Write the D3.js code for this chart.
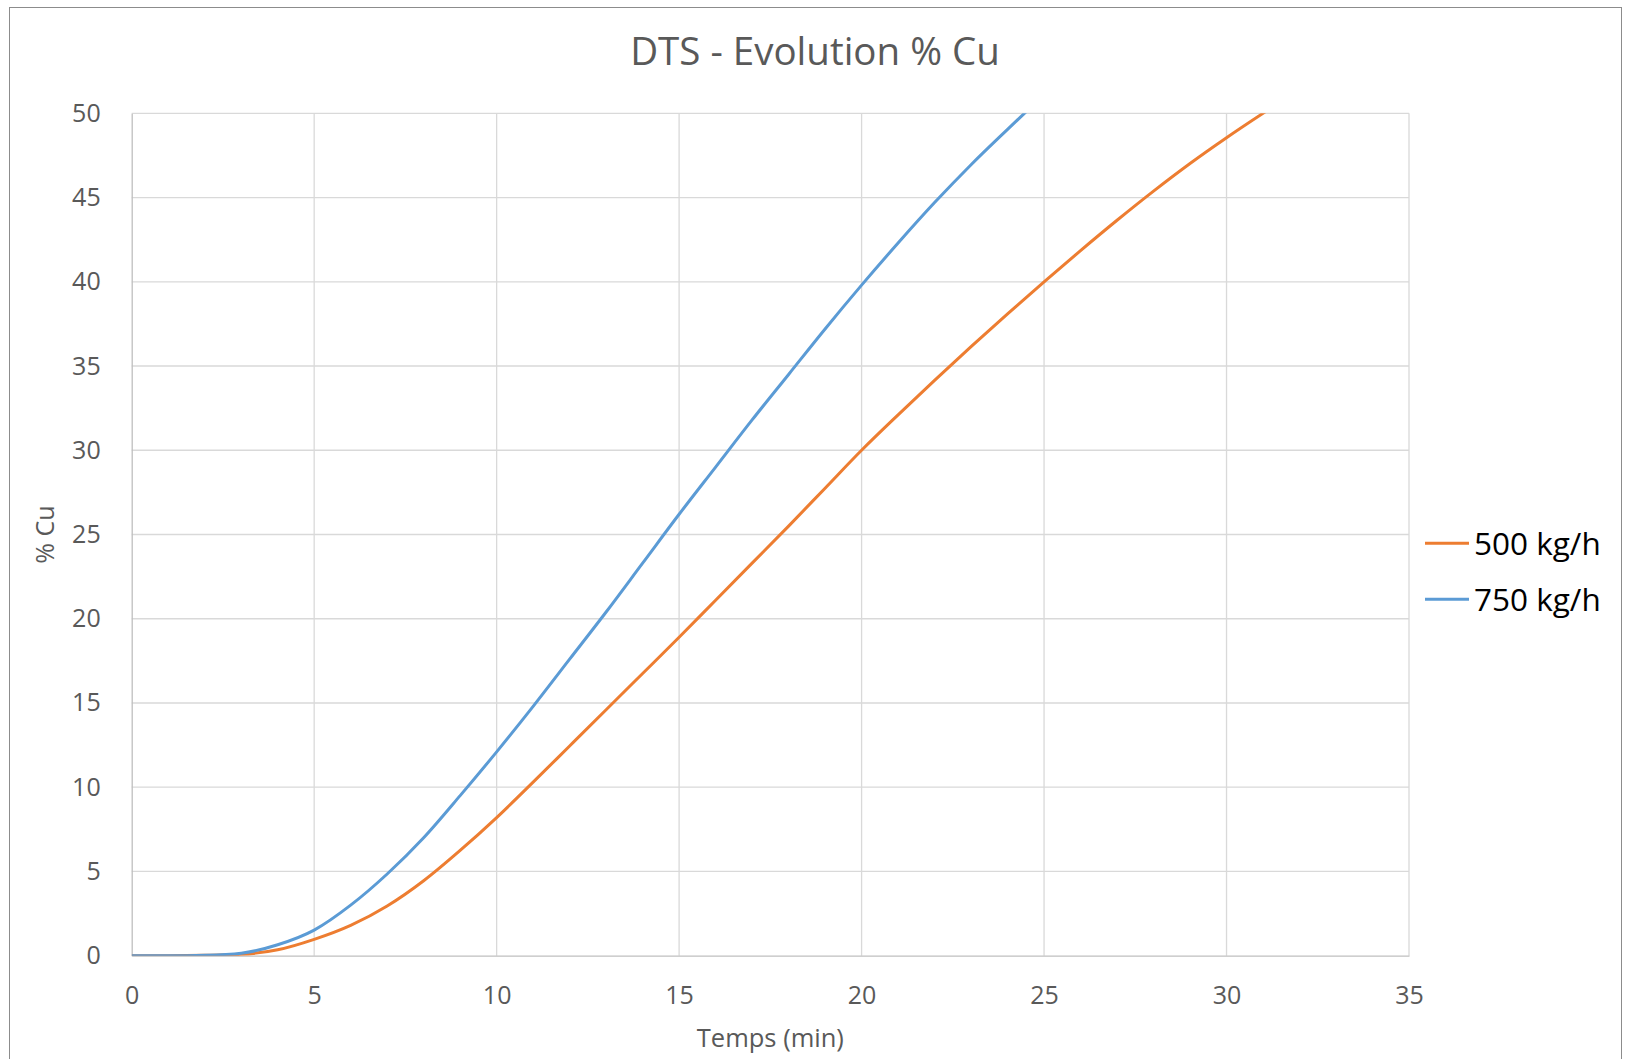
<!DOCTYPE html>
<html>
<head>
<meta charset="utf-8">
<script src="https://cdn.jsdelivr.net/npm/d3@7"></script>
<style>
  body { margin: 0; background: #fff; }
  svg text { font-family: "Open Sans", "Noto Sans", sans-serif; }
</style>
</head>
<body>
<div id="chart"></div>
<script>
// temps (min) and % Cu
var times   = [0, 1, 2, 3, 4, 5, 6, 7, 8, 9, 10, 11, 12, 13, 14, 15, 16, 17, 18, 19, 20, 21, 22, 23, 24, 25, 26, 27, 28, 29, 30, 31, 32];
var cu500   = [0, 0, 0.02, 0.08, 0.35, 0.97, 1.8, 2.95, 4.45, 6.25, 8.2, 10.3, 12.45, 14.6, 16.75, 18.9, 21.1, 23.3, 25.5, 27.75, 30.0, 32.1, 34.15, 36.15, 38.1, 40.0, 41.85, 43.65, 45.38, 47.02, 48.55, 50.0, 51.4];
var cu750   = [0, 0, 0.03, 0.15, 0.65, 1.52, 3.0, 4.85, 7.0, 9.5, 12.1, 14.8, 17.6, 20.4, 23.3, 26.2, 29.0, 31.8, 34.5, 37.2, 39.8, 42.3, 44.7, 46.95, 49.05, 51.1];
var seriesNames  = ["500 kg/h", "750 kg/h"];
var seriesColors = ["#ED7D31", "#5B9BD5"];
var xTicks = [0, 5, 10, 15, 20, 25, 30, 35];
var yTicks = [0, 5, 10, 15, 20, 25, 30, 35, 40, 45, 50];

var size = {w: 1627, h: 1059};
var plot = {left: 131.7, right: 1409, top: 113.3, bottom: 955.7};

var svg = d3.select("#chart").append("svg")
	.attr("width", size.w)
	.attr("height", size.h);

// chart border
svg.append("rect")
	.attr("x", 9.5).attr("y", 7.5)
	.attr("width", 1612).attr("height", 1070)
	.style("fill", "#fff")
	.style("stroke", "#8c8c8c")
	.style("stroke-width", 1);

var x = d3.scaleLinear().domain([0, 35]).range([plot.left, plot.right]);
var y = d3.scaleLinear().domain([0, 50]).range([plot.bottom, plot.top]);

// gridlines
svg.append("g").selectAll("line.h")
	.data(yTicks.slice(1)).enter().append("line")
	.attr("x1", plot.left).attr("x2", plot.right)
	.attr("y1", function(d){ return y(d); }).attr("y2", function(d){ return y(d); })
	.style("stroke", "#d9d9d9").style("stroke-width", 1.3);

svg.append("g").selectAll("line.v")
	.data(xTicks.slice(1)).enter().append("line")
	.attr("x1", function(d){ return x(d); }).attr("x2", function(d){ return x(d); })
	.attr("y1", plot.top).attr("y2", plot.bottom)
	.style("stroke", "#d9d9d9").style("stroke-width", 1.3);

// axes
var xAxis = d3.axisBottom(x).tickValues(xTicks).tickSize(0).tickPadding(31);
var yAxis = d3.axisLeft(y).tickValues(yTicks).tickSize(0).tickPadding(31);

var gx = svg.append("g").attr("transform", "translate(0," + plot.bottom + ")").call(xAxis);
var gy = svg.append("g").attr("transform", "translate(" + plot.left + ",0)").call(yAxis);

[gx, gy].forEach(function(g){
	g.select(".domain").style("stroke", "#bfbfbf").style("stroke-width", 1.3);
	g.selectAll("text").style("font-size", "25px").style("fill", "#595959");
});

// clip lines at the plot area like excel does
svg.append("clipPath").attr("id", "clip")
	.append("rect")
	.attr("x", plot.left).attr("y", plot.top)
	.attr("width", plot.right - plot.left).attr("height", plot.bottom - plot.top);

var line = d3.line()
	.x(function(d){ return x(d[0]); })
	.y(function(d){ return y(d[1]); })
	.curve(d3.curveMonotoneX);

var allSeries = [cu500, cu750];
allSeries.forEach(function(vals, i){
	var pts = vals.map(function(v, k){ return [times[k], v]; });
	svg.append("path")
		.datum(pts)
		.attr("clip-path", "url(#clip)")
		.attr("d", line)
		.style("fill", "none")
		.style("stroke", seriesColors[i])
		.style("stroke-width", 3)
		.style("stroke-linejoin", "round");
});

// title
svg.append("text")
	.attr("x", 815).attr("y", 65)
	.attr("text-anchor", "middle")
	.style("font-size", "38.5px")
	.style("fill", "#595959")
	.text("DTS - Evolution % Cu");

// axis titles
svg.append("text")
	.attr("x", (plot.left + plot.right) / 2).attr("y", 1047)
	.attr("text-anchor", "middle")
	.style("font-size", "25.5px")
	.style("fill", "#595959")
	.text("Temps (min)");

svg.append("text")
	.attr("transform", "translate(54," + ((plot.top + plot.bottom) / 2) + ") rotate(-90)")
	.attr("text-anchor", "middle")
	.style("font-size", "25px")
	.style("fill", "#595959")
	.text("% Cu");

// legend
var legend = svg.append("g");
seriesNames.forEach(function(name, i){
	var ly = 543.3 + i * 56;
	legend.append("line")
		.attr("x1", 1425).attr("x2", 1469).attr("y1", ly).attr("y2", ly)
		.style("stroke", seriesColors[i]).style("stroke-width", 3);
	legend.append("text")
		.attr("x", 1474).attr("y", ly + 11.5)
		.style("font-size", "31.5px")
		.style("fill", "#000")
		.text(name);
});
</script>
</body>
</html>
